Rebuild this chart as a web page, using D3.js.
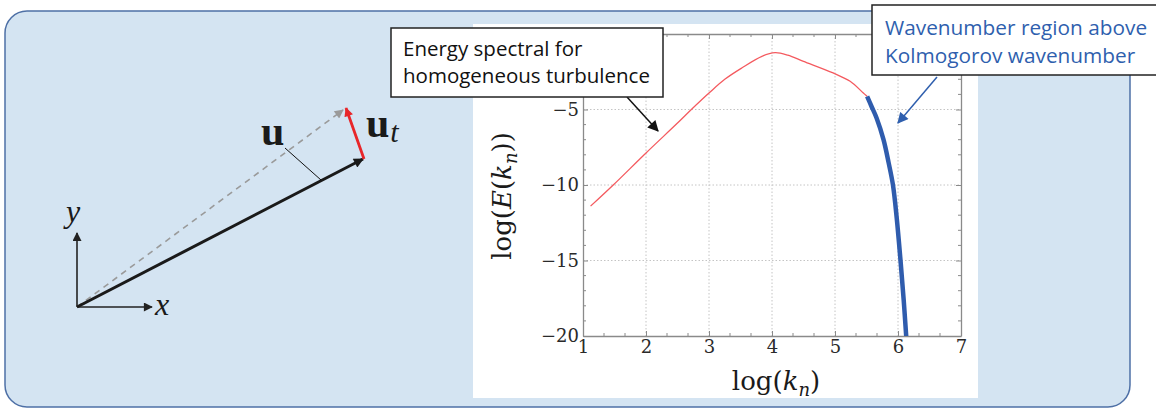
<!DOCTYPE html>
<html>
<head>
<meta charset="utf-8">
<script src="https://cdn.jsdelivr.net/npm/d3@7"></script>
<style>
  body { margin: 0; background: #ffffff; }
  svg { display: block; }
</style>
</head>
<body>
<div id="figure"></div>
<script>
      var width = 1156;
      var height = 410;

      // spectrum (log k, log E)
      var kInertial = [1.12, 1.48, 2.0, 2.5, 2.72, 3.0, 3.25, 3.52, 3.84, 4.05, 4.25, 4.5, 4.97, 5.24, 5.45, 5.51];
      var eInertial = [-11.4, -10.0, -7.88, -5.9, -5.0, -3.91, -3.0, -2.25, -1.48, -1.24, -1.4, -1.81, -2.58, -3.13, -3.91, -4.13];
      var kDissip = [5.51, 5.58, 5.66, 5.77, 5.85, 5.92, 5.98, 6.04, 6.09, 6.13, 6.15];
      var eDissip = [-4.13, -4.8, -5.56, -7.0, -8.5, -10.0, -12.2, -15.0, -17.6, -20.0, -21.1];
      var xTicks = [1, 2, 3, 4, 5, 6, 7];
      var yTicks = [-20, -15, -10, -5];

      // vector sketch, units of 100px
      var origin = [0, 0];
      var vecU = [2.86, 1.48];
      var vecFull = [2.69, 1.99];
      var axisLen = [0.75, 0.74];

      var svg = d3.select('#figure').append('svg')
          .attr('width', width)
          .attr('height', height)

      var defs = svg.append('defs')
      function marker(id, color, w, h) {
        defs.append('marker')
            .attr('id', id)
            .attr('viewBox', '0 0 10 10')
            .attr('refX', 9).attr('refY', 5)
            .attr('markerUnits', 'userSpaceOnUse')
            .attr('markerWidth', w).attr('markerHeight', h)
            .attr('orient', 'auto')
          .append('path')
            .attr('d', 'M0,0 L10,5 L0,10 Z')
            .attr('fill', color)
      }
      marker('arrBlack', '#1a1a1a', 14, 10)
      marker('arrRed', '#e8262a', 12, 9)
      marker('arrGray', '#9a9a9a', 12, 9)
      marker('arrAxis', '#222', 13, 9)
      marker('arrNote', '#111', 13, 11)
      marker('arrBlue', '#2f5fae', 13, 11)

      // panel background
      svg.append('rect')
          .attr('x', 5).attr('y', 11)
          .attr('width', 1125).attr('height', 396)
          .attr('rx', 22)
          .attr('fill', '#d4e4f2')
          .attr('stroke', '#4e70a6')
          .attr('stroke-width', 1.5)

      // ---- left: vector sketch ----
      var sx = d3.scaleLinear().domain([0, 1]).range([77, 177])
      var sy = d3.scaleLinear().domain([0, 1]).range([307, 207])

      svg.append('line')
          .attr('x1', sx(origin[0])).attr('y1', sy(origin[1]))
          .attr('x2', sx(axisLen[0])).attr('y2', sy(origin[1]))
          .attr('stroke', '#222').attr('stroke-width', 1.6)
          .attr('marker-end', 'url(#arrAxis)')
      svg.append('line')
          .attr('x1', sx(origin[0])).attr('y1', sy(origin[1]))
          .attr('x2', sx(origin[0])).attr('y2', sy(axisLen[1]))
          .attr('stroke', '#222').attr('stroke-width', 1.6)
          .attr('marker-end', 'url(#arrAxis)')

      svg.append('line')
          .attr('x1', sx(origin[0])).attr('y1', sy(origin[1]))
          .attr('x2', sx(vecFull[0]) - 3).attr('y2', sy(vecFull[1]) + 2)
          .attr('stroke', '#9a9a9a').attr('stroke-width', 1.6)
          .attr('stroke-dasharray', '6,5')
          .attr('marker-end', 'url(#arrGray)')
      svg.append('line')
          .attr('x1', sx(origin[0])).attr('y1', sy(origin[1]))
          .attr('x2', sx(vecU[0])).attr('y2', sy(vecU[1]))
          .attr('stroke', '#1a1a1a').attr('stroke-width', 3)
          .attr('marker-end', 'url(#arrBlack)')
      svg.append('line')
          .attr('x1', sx(vecU[0]) + 1).attr('y1', sy(vecU[1]))
          .attr('x2', sx(vecFull[0])).attr('y2', sy(vecFull[1]))
          .attr('stroke', '#e8262a').attr('stroke-width', 2.8)
          .attr('marker-end', 'url(#arrRed)')
      // leader for u
      svg.append('line')
          .attr('x1', 285).attr('y1', 148)
          .attr('x2', 321).attr('y2', 180)
          .attr('stroke', '#111').attr('stroke-width', 1)

      svg.append('text')
          .attr('x', 261).attr('y', 145)
          .style('font-family', 'Liberation Serif')
          .style('font-weight', 'bold')
          .style('font-size', '42px')
          .attr('fill', '#1a1a1a')
          .text('u')
      var ut = svg.append('text')
          .attr('x', 366).attr('y', 137)
          .style('font-family', 'Liberation Serif')
          .style('font-size', '42px')
          .attr('fill', '#1a1a1a')
      ut.append('tspan').style('font-weight', 'bold').text('u')
      ut.append('tspan').attr('dy', 5).attr('dx', 1).style('font-style', 'italic').style('font-size', '30px').text('t')

      svg.append('text')
          .attr('x', 155).attr('y', 315)
          .style('font-family', 'Liberation Serif')
          .style('font-style', 'italic')
          .style('font-size', '32px')
          .attr('fill', '#1a1a1a')
          .text('x')
      svg.append('text')
          .attr('x', 66).attr('y', 222)
          .style('font-family', 'Liberation Serif')
          .style('font-style', 'italic')
          .style('font-size', '32px')
          .attr('fill', '#1a1a1a')
          .text('y')

      // ---- right: spectrum plot ----
      svg.append('rect')
          .attr('x', 473).attr('y', 24)
          .attr('width', 505).attr('height', 374)
          .attr('fill', '#ffffff')

      var xScale = d3.scaleLinear().domain([1, 7]).range([583, 961])
      var yScale = d3.scaleLinear().domain([-20, 0]).range([336, 34])
      var plotW = 961 - 583, plotH = 336 - 34

      var minorX = d3.range(1, 7.0001, 1 / 3).filter(d => Math.abs(d - Math.round(d)) > 0.01)
      var minorY = d3.range(-20, 0.001, 1).filter(d => d % 5 !== 0)

      // grid
      var grid = svg.append('g')
      grid.selectAll('.gx').data(xTicks.slice(1, -1)).enter().append('line')
          .attr('x1', d => xScale(d)).attr('x2', d => xScale(d))
          .attr('y1', yScale(0)).attr('y2', yScale(-20))
      grid.selectAll('.gy').data(yTicks.slice(1)).enter().append('line')
          .attr('x1', xScale(1)).attr('x2', xScale(7))
          .attr('y1', d => yScale(d)).attr('y2', d => yScale(d))
      grid.selectAll('line')
          .attr('stroke', '#c4c4c4').attr('stroke-width', 1)
          .attr('stroke-dasharray', '1.5,2')

      // axes with inward ticks
      function styleAxis(g) {
        g.select('.domain').attr('stroke', '#8a8a8a').attr('stroke-width', 1.3)
        g.selectAll('.tick line').attr('stroke', '#8a8a8a')
        g.selectAll('.tick text')
            .style('font-family', 'DejaVu Serif')
            .style('font-size', '18px')
            .attr('fill', '#2a2a2a')
      }
      svg.append('g')
          .attr('transform', 'translate(0,' + yScale(-20) + ')')
          .call(d3.axisBottom(xScale).tickValues(xTicks).tickSizeInner(-5).tickSizeOuter(0).tickPadding(4).tickFormat(d3.format('d')))
          .call(styleAxis)
      svg.append('g')
          .attr('transform', 'translate(0,' + yScale(0) + ')')
          .call(d3.axisTop(xScale).tickValues(xTicks).tickSizeInner(-5).tickSizeOuter(0).tickFormat(''))
          .call(styleAxis)
      svg.append('g')
          .attr('transform', 'translate(' + xScale(1) + ',0)')
          .call(d3.axisLeft(yScale).tickValues(yTicks).tickSizeInner(-5).tickSizeOuter(0).tickPadding(4).tickFormat(d3.format('d')))
          .call(styleAxis)
      svg.append('g')
          .attr('transform', 'translate(' + xScale(7) + ',0)')
          .call(d3.axisRight(yScale).tickValues(yTicks).tickSizeInner(-5).tickSizeOuter(0).tickFormat(''))
          .call(styleAxis)

      // minor ticks
      var minor = svg.append('g').attr('stroke', '#8a8a8a').attr('stroke-width', 1)
      minorX.forEach(function (d) {
        minor.append('line').attr('x1', xScale(d)).attr('x2', xScale(d)).attr('y1', yScale(-20)).attr('y2', yScale(-20) - 3)
        minor.append('line').attr('x1', xScale(d)).attr('x2', xScale(d)).attr('y1', yScale(0)).attr('y2', yScale(0) + 3)
      })
      minorY.forEach(function (d) {
        minor.append('line').attr('y1', yScale(d)).attr('y2', yScale(d)).attr('x1', xScale(1)).attr('x2', xScale(1) + 3)
        minor.append('line').attr('y1', yScale(d)).attr('y2', yScale(d)).attr('x1', xScale(7)).attr('x2', xScale(7) - 3)
      })

      defs.append('clipPath').attr('id', 'plotClip')
        .append('rect').attr('x', xScale(1)).attr('y', yScale(0)).attr('width', plotW).attr('height', plotH)

      var line = d3.line()
          .x(d => xScale(d[0]))
          .y(d => yScale(d[1]))
          .curve(d3.curveCatmullRom.alpha(0.5))

      svg.append('path')
          .datum(d3.zip(kInertial, eInertial))
          .attr('d', line)
          .attr('fill', 'none')
          .attr('stroke', '#f45a5f')
          .attr('stroke-width', 1.3)
      svg.append('path')
          .datum(d3.zip(kDissip, eDissip))
          .attr('d', line)
          .attr('clip-path', 'url(#plotClip)')
          .attr('fill', 'none')
          .attr('stroke', '#2f5cad')
          .attr('stroke-width', 4.5)

      // axis titles
      var xl = svg.append('text')
          .attr('x', 776).attr('y', 390)
          .style('text-anchor', 'middle')
          .style('font-family', 'DejaVu Serif')
          .style('font-size', '26px')
          .attr('fill', '#1a1a1a')
      xl.append('tspan').text('log(')
      xl.append('tspan').style('font-style', 'italic').text('k')
      xl.append('tspan').attr('dy', 6).style('font-style', 'italic').style('font-size', '18px').text('n')
      xl.append('tspan').attr('dy', -6).text(')')

      var yl = svg.append('text')
          .attr('transform', 'translate(511,196) rotate(-90)')
          .style('text-anchor', 'middle')
          .style('font-family', 'DejaVu Serif')
          .style('font-size', '26px')
          .attr('fill', '#1a1a1a')
      yl.append('tspan').text('log(')
      yl.append('tspan').style('font-style', 'italic').text('E')
      yl.append('tspan').text('(')
      yl.append('tspan').style('font-style', 'italic').text('k')
      yl.append('tspan').attr('dy', 6).style('font-style', 'italic').style('font-size', '18px').text('n')
      yl.append('tspan').attr('dy', -6).text('))')

      // ---- callouts ----
      svg.append('line')
          .attr('x1', 627).attr('y1', 97)
          .attr('x2', 658).attr('y2', 131)
          .attr('stroke', '#111').attr('stroke-width', 1.5)
          .attr('marker-end', 'url(#arrNote)')
      svg.append('rect')
          .attr('x', 391).attr('y', 28)
          .attr('width', 272).attr('height', 69)
          .attr('fill', '#ffffff')
          .attr('stroke', '#222').attr('stroke-width', 1.5)
      svg.append('text')
          .attr('x', 403).attr('y', 56)
          .style('font-family', 'Open Sans')
          .style('font-size', '20.5px')
          .attr('fill', '#111')
          .text('Energy spectral for')
      svg.append('text')
          .attr('x', 403).attr('y', 83)
          .style('font-family', 'Open Sans')
          .style('font-size', '20.5px')
          .attr('fill', '#111')
          .text('homogeneous turbulence')

      svg.append('line')
          .attr('x1', 937).attr('y1', 77)
          .attr('x2', 898).attr('y2', 123)
          .attr('stroke', '#2f5fae').attr('stroke-width', 1.5)
          .attr('marker-end', 'url(#arrBlue)')
      svg.append('rect')
          .attr('x', 872).attr('y', 5)
          .attr('width', 290).attr('height', 70)
          .attr('fill', '#ffffff')
          .attr('stroke', '#222').attr('stroke-width', 1.5)
      svg.append('text')
          .attr('x', 885).attr('y', 35)
          .style('font-family', 'Open Sans')
          .style('font-size', '20.8px')
          .attr('fill', '#2f5fae')
          .text('Wavenumber region above')
      svg.append('text')
          .attr('x', 885).attr('y', 63)
          .style('font-family', 'Open Sans')
          .style('font-size', '20.8px')
          .attr('fill', '#2f5fae')
          .text('Kolmogorov wavenumber')
</script>
</body>
</html>
